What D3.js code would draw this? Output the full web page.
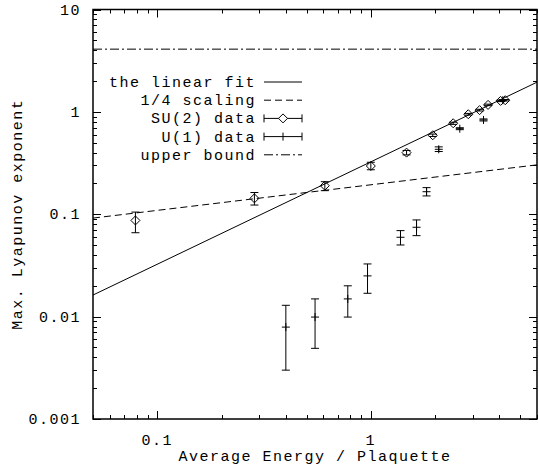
<!DOCTYPE html>
<html>
<head>
<meta charset="utf-8">
<script src="https://cdn.jsdelivr.net/npm/d3@7"></script>
<style>
  body { margin: 0; background: #fff; }
  text { font-family: "Liberation Mono", "DejaVu Sans Mono", monospace; font-size: 15px; letter-spacing: 1.5px; fill: #000; }
</style>
</head>
<body>
<div id="chart"></div>
<script>
// tick labels
const xTickVals = [0.1, 1];
const xTickLabels = ["0.1", "1"];
const yTickVals = [0.001, 0.01, 0.1, 1, 10];
const yTickLabels = ["0.001", "0.01", "0.1", "1", "10"];

// SU(2) data: energy, exponent, error low, error high
const su2E   = [0.079, 0.285, 0.609, 1.00, 1.47, 1.95, 2.43, 2.86, 3.23, 3.54, 4.05, 4.26];
const su2Y   = [0.087, 0.143, 0.190, 0.296, 0.400, 0.591, 0.774, 0.948, 1.04, 1.17, 1.28, 1.30];
const su2Lo  = [0.066, 0.123, 0.170, 0.272, 0.380, 0.575, 0.755, 0.930, 1.02, 1.15, 1.26, 1.28];
const su2Hi  = [0.105, 0.163, 0.208, 0.322, 0.420, 0.607, 0.793, 0.966, 1.06, 1.19, 1.30, 1.32];

// U(1) data
const u1E  = [0.400, 0.548, 0.780, 0.965, 1.377, 1.637, 1.824, 2.08, 2.61, 3.37, 4.15];
const u1Y  = [0.0079, 0.0099, 0.0149, 0.0250, 0.0596, 0.0746, 0.166, 0.431, 0.685, 0.834, 1.30];
const u1Lo = [0.0030, 0.0049, 0.0099, 0.0169, 0.0501, 0.0618, 0.151, 0.410, 0.670, 0.815, 1.28];
const u1Hi = [0.0129, 0.0149, 0.0200, 0.0327, 0.0692, 0.0880, 0.182, 0.455, 0.700, 0.853, 1.32];

// fitted curves
const fitCoef = 0.325;     // linear fit: y = a * E
const quarterCoef = 0.194; // 1/4 scaling: y = b * E^0.25
const upperBound = 4.1;

const legendNames = ["the linear fit", "1/4 scaling", "SU(2) data", "U(1) data", "upper bound"];

const width = 539, height = 466;
const margin = { top: 9.5, right: 2, bottom: 47, left: 93 };

const svg = d3.select("#chart").append("svg")
  .attr("width", width)
  .attr("height", height);

const x = d3.scaleLog().domain([0.05, 6]).range([margin.left, width - margin.right]);
const y = d3.scaleLog().domain([0.001, 10]).range([height - margin.bottom, margin.top]);

const x0 = x.range()[0], x1 = x.range()[1];
const y0 = y.range()[0], y1 = y.range()[1];

const isMajor = v => Math.abs(Math.log10(v) - Math.round(Math.log10(v))) < 1e-6;

// ticks (inward, mirrored on all four sides)
const ticks = svg.append("g").attr("stroke", "#000").attr("stroke-width", 1);
x.ticks().forEach(v => {
  const len = isMajor(v) ? 8 : 4;
  const px = Math.round(x(v)) + 0.5;
  ticks.append("line").attr("x1", px).attr("x2", px).attr("y1", y0).attr("y2", y0 - len);
  ticks.append("line").attr("x1", px).attr("x2", px).attr("y1", y1).attr("y2", y1 + len);
});
y.ticks().forEach(v => {
  const len = isMajor(v) ? 8 : 4;
  const py = Math.round(y(v)) + 0.5;
  ticks.append("line").attr("y1", py).attr("y2", py).attr("x1", x0).attr("x2", x0 + len);
  ticks.append("line").attr("y1", py).attr("y2", py).attr("x1", x1).attr("x2", x1 - len);
});

// tick labels
xTickVals.forEach((v, i) => {
  svg.append("text").attr("x", x(v)).attr("y", y0 + 26)
    .attr("text-anchor", "middle").text(xTickLabels[i]);
});
yTickVals.forEach((v, i) => {
  svg.append("text").attr("x", x0 - 12).attr("y", y(v) + 5)
    .attr("text-anchor", "end").text(yTickLabels[i]);
});

// axis labels
svg.append("text").attr("x", (x0 + x1) / 2).attr("y", height - 5)
  .attr("text-anchor", "middle").text("Average Energy / Plaquette");
svg.append("text")
  .attr("transform", `translate(22, ${(y0 + y1) / 2}) rotate(-90)`)
  .attr("text-anchor", "middle").text("Max. Lyapunov exponent");

// clip for curves
svg.append("clipPath").attr("id", "plotclip").append("rect")
  .attr("x", x0).attr("y", y1).attr("width", x1 - x0).attr("height", y0 - y1);

const plot = svg.append("g").attr("clip-path", "url(#plotclip)");
const line = d3.line().x(d => x(d[0])).y(d => y(d[1]));
const xs = x.domain();

plot.append("path")
  .attr("d", line(xs.map(e => [e, fitCoef * e])))
  .attr("fill", "none").attr("stroke", "#000").attr("stroke-width", 1);

plot.append("path")
  .attr("d", line(xs.map(e => [e, quarterCoef * Math.pow(e, 0.25)])))
  .attr("fill", "none").attr("stroke", "#000").attr("stroke-width", 1)
  .attr("stroke-dasharray", "7,4");

plot.append("path")
  .attr("d", line(xs.map(e => [e, upperBound])))
  .attr("fill", "none").attr("stroke", "#000").attr("stroke-width", 1)
  .attr("stroke-dasharray", "9,3,2,3");

// markers
const cap = 4;
function errorBar(g, px, pyLo, pyHi) {
  g.append("line").attr("x1", px).attr("x2", px).attr("y1", pyLo).attr("y2", pyHi);
  g.append("line").attr("x1", px - cap).attr("x2", px + cap).attr("y1", pyLo).attr("y2", pyLo);
  g.append("line").attr("x1", px - cap).attr("x2", px + cap).attr("y1", pyHi).attr("y2", pyHi);
}
function diamond(g, px, py) {
  const s = 4.5;
  g.append("path")
    .attr("d", `M${px},${py - s}L${px + s},${py}L${px},${py + s}L${px - s},${py}Z`)
    .attr("fill", "none");
}
function plus(g, px, py) {
  g.append("line").attr("x1", px - 4).attr("x2", px + 4).attr("y1", py).attr("y2", py);
  g.append("line").attr("x1", px).attr("x2", px).attr("y1", py - 4).attr("y2", py + 4);
}

const pts = svg.append("g").attr("stroke", "#000").attr("stroke-width", 1).attr("fill", "none");
u1E.forEach((e, i) => {
  errorBar(pts, x(e), y(u1Lo[i]), y(u1Hi[i]));
  plus(pts, x(e), y(u1Y[i]));
});
su2E.forEach((e, i) => {
  errorBar(pts, x(e), y(su2Lo[i]), y(su2Hi[i]));
  diamond(pts, x(e), y(su2Y[i]));
});

// legend
const legX = 256, sampleX0 = 264, sampleX1 = 302, legY0 = 82, legStep = 18.2;
const leg = svg.append("g").attr("stroke", "#000").attr("stroke-width", 1).attr("fill", "none");
legendNames.forEach((name, i) => {
  const ly = legY0 + i * legStep;
  svg.append("text").attr("x", legX).attr("y", ly + 5)
    .attr("text-anchor", "end").text(name);
  if (i === 0 || i === 1 || i === 4) {
    leg.append("line").attr("x1", sampleX0).attr("x2", sampleX1).attr("y1", ly).attr("y2", ly)
      .attr("stroke-dasharray", i === 1 ? "7,4" : i === 4 ? "9,3,2,3" : null);
  } else {
    leg.append("line").attr("x1", sampleX0).attr("x2", sampleX1).attr("y1", ly).attr("y2", ly);
    leg.append("line").attr("x1", sampleX0).attr("x2", sampleX0).attr("y1", ly - cap).attr("y2", ly + cap);
    leg.append("line").attr("x1", sampleX1).attr("x2", sampleX1).attr("y1", ly - cap).attr("y2", ly + cap);
    const mx = (sampleX0 + sampleX1) / 2;
    if (i === 2) {
      leg.append("path").attr("d", `M${mx},${ly - 4.5}L${mx + 4.5},${ly}L${mx},${ly + 4.5}L${mx - 4.5},${ly}Z`)
        .attr("fill", "#fff");
    } else {
      leg.append("line").attr("x1", mx).attr("x2", mx).attr("y1", ly - 4).attr("y2", ly + 4);
    }
  }
});

// frame
svg.append("rect")
  .attr("x", x0).attr("y", y1).attr("width", x1 - x0).attr("height", y0 - y1)
  .attr("fill", "none").attr("stroke", "#000").attr("stroke-width", 1.5);
</script>
</body>
</html>
